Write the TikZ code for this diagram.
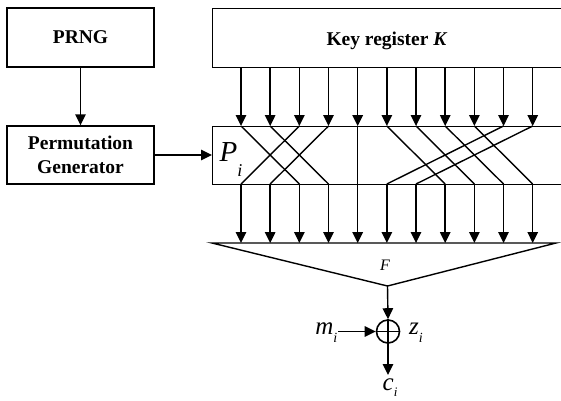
\documentclass[tikz,border=0pt]{standalone}
\usepackage{fontspec}
\setmainfont{Liberation Serif}
\usetikzlibrary{arrows.meta}
\begin{document}
\begin{tikzpicture}[x=1pt,y=-1pt,
  line width=1.4pt,
  arr/.style={-{Triangle[length=11pt,width=10.5pt]}},
  box/.style={draw,rectangle,inner sep=0pt,align=center,
    font=\fontsize{19.5}{24}\selectfont\bfseries},
  wide/.style={draw,rectangle,inner sep=0pt,anchor=north west,minimum width=352pt},
  lbl/.style={inner sep=0pt}]
\useasboundingbox (0,0) rectangle (561,400);
\clip (0,0) rectangle (561,400);
% left boxes
\node[box,minimum width=147pt,minimum height=59pt] (prng) at (80.5,37.5) {PRNG};
\node[box,minimum width=147pt,minimum height=58pt] (pg) at (80.5,155) {Permutation\\Generator};
% key register and permutation box
\node[wide,minimum height=59pt] (key) at (212,8) {};
\node[lbl,font=\fontsize{19.5}{24}\selectfont\bfseries] (keytext) at (387,41) {Key register \textit{K}};
\node[wide,minimum height=58pt] (pbox) at (212,126) {};
\node[lbl,anchor=base west] (pi) at (219,161.5) {\fontsize{29}{29}\selectfont\itshape P\raisebox{-15pt}{\fontsize{18}{18}\selectfont i}};
\draw[arr] (prng) -- (pg);
\draw[arr] (pg.east) -- (pbox.west |- pg.east);
% wire coordinates
\foreach \k in {0,...,10}{
  \pgfmathsetmacro{\xx}{241+29.17*\k}
  \coordinate (kt\k) at (\xx,67);
  \coordinate (pt\k) at (\xx,126);
  \coordinate (pb\k) at (\xx,184);
  \coordinate (ft\k) at (\xx,243);
  \draw[arr] (kt\k) -- (pt\k);
  \draw[arr] (pb\k) -- (ft\k);
}
% permutation wiring
\draw (pt0) -- (pb2);
\draw (pt1) -- (pb3);
\draw (pt2) -- (pb0);
\draw (pt3) -- (pb1);
\draw (pt4) -- (pb4);
\draw (pt5) -- (pb7);
\draw (pt6) -- (pb8);
\draw (pt7) -- (pb9);
\draw (pt8) -- (pb10);
\draw (pt9) -- (pb5);
\draw (pt10) -- (pb6);
% function F
\coordinate (fl) at (212,243);
\coordinate (fr) at (556,243);
\coordinate (fa) at (387.5,286);
\draw[line join=miter] (fl) -- (fr) -- (fa) -- cycle;
\node[lbl,font=\fontsize{16}{16}\selectfont\itshape] (F) at (385,265) {F};
% xor
\node[draw,circle,minimum size=23pt,inner sep=0pt,line width=1.6pt] (xor) at (388,331.5) {};
\draw (xor.north) -- (xor.south) (xor.west) -- (xor.east);
\draw[arr] (fa) -- (xor.north);
\node[lbl,anchor=base east,font=\fontsize{25}{25}\selectfont\itshape] (mi) at (338,334) {m\raisebox{-8pt}{\fontsize{14}{14}\selectfont i}};
\draw[arr] (mi.east |- xor.west) -- (xor.west);
\node[lbl,anchor=base west,font=\fontsize{25}{25}\selectfont\itshape] (zi) at (408.5,334.5) {z\raisebox{-8pt}{\fontsize{14}{14}\selectfont i}};
\coordinate (cend) at (388,375);
\draw[arr] (xor.south) -- (cend);
\node[lbl,anchor=base west,font=\fontsize{25}{25}\selectfont\itshape] (ci) at (382,390) {c\raisebox{-6pt}{\fontsize{13}{13}\selectfont i}};
\end{tikzpicture}
\end{document}
